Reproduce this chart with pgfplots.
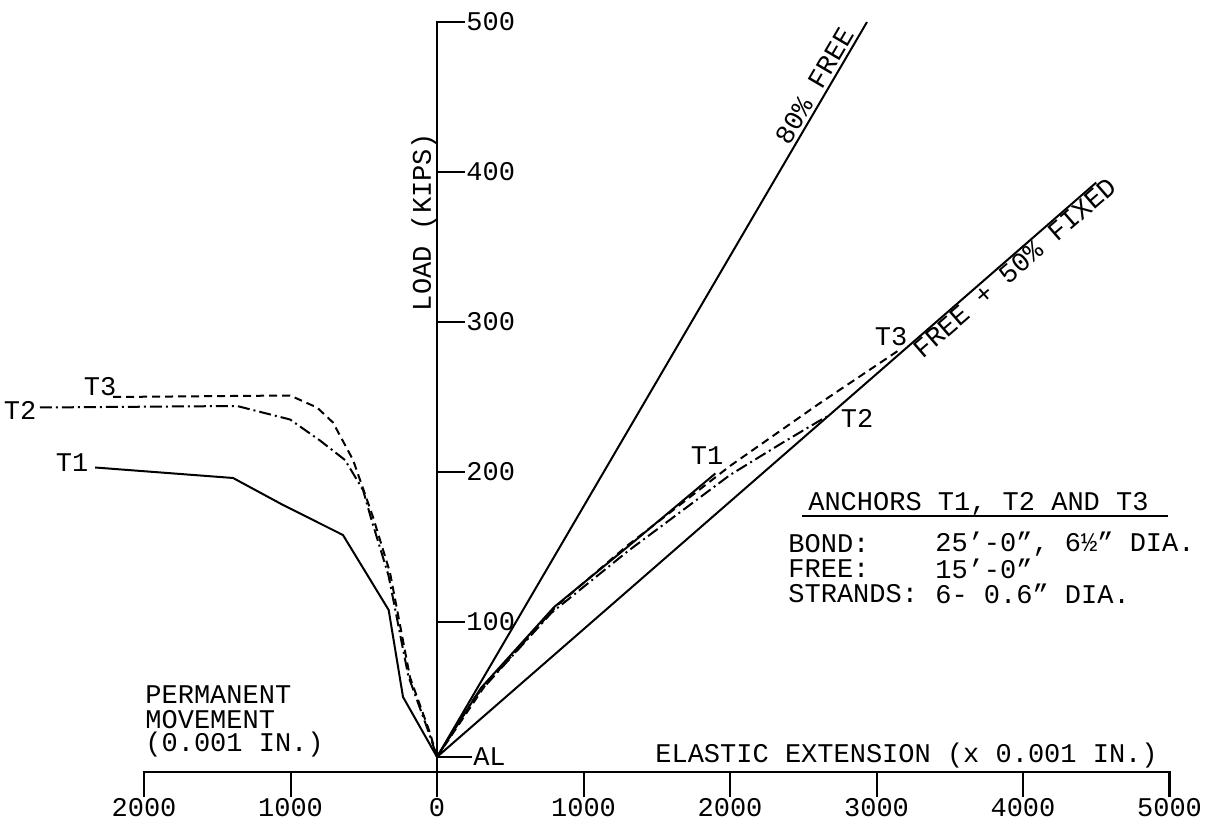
\documentclass[border=0pt]{standalone}
\usepackage{pgfplots}
\pgfplotsset{compat=1.18}
\usepackage{fontspec}
\setmainfont{Liberation Mono}
\begin{document}
\begin{tikzpicture}[font=\fontsize{13.5pt}{16pt}\selectfont, every node/.append style={inner sep=0pt}]
\begin{axis}[
  width=606.5pt, height=415pt, scale only axis,
  xmin=-2983, xmax=5297, ymin=-38.7, ymax=514.7,
  hide axis, clip=false,
]
\path (axis cs:-2983,-38.7) rectangle (axis cs:5297,514.7);
% axes
\addplot[black, line width=1.2pt] coordinates {(-2000,-16.7) (-2000,0) (5000,0) (5000,-16.7)};
\addplot[black, line width=1.2pt] coordinates {(191,500) (0,500) (0,-17)};
% x ticks
\draw[black, line width=1pt] (axis cs:-1000,0) -- (axis cs:-1000,-16.7);
\draw[black, line width=1pt] (axis cs:1000,0) -- (axis cs:1000,-16.7);
\draw[black, line width=1pt] (axis cs:2000,0) -- (axis cs:2000,-16.7);
\draw[black, line width=1pt] (axis cs:3000,0) -- (axis cs:3000,-16.7);
\draw[black, line width=1pt] (axis cs:4000,0) -- (axis cs:4000,-16.7);
% y ticks
\draw[black, line width=1pt] (axis cs:0,100) -- (axis cs:191,100);
\draw[black, line width=1pt] (axis cs:0,200) -- (axis cs:191,200);
\draw[black, line width=1pt] (axis cs:0,300) -- (axis cs:191,300);
\draw[black, line width=1pt] (axis cs:0,400) -- (axis cs:191,400);
% tick labels
\node at (axis cs:-2000,-24) {2000};
\node at (axis cs:-1000,-24) {1000};
\node at (axis cs:0,-24) {0};
\node at (axis cs:1000,-24) {1000};
\node at (axis cs:2000,-24) {2000};
\node at (axis cs:3000,-24) {3000};
\node at (axis cs:4000,-24) {4000};
\node at (axis cs:5000,-24) {5000};
\node[anchor=west] at (axis cs:198,100) {100};
\node[anchor=west] at (axis cs:198,200) {200};
\node[anchor=west] at (axis cs:198,300) {300};
\node[anchor=west] at (axis cs:198,400) {400};
\node[anchor=west] at (axis cs:198,500) {500};
% axis titles
\node[rotate=90] at (axis cs:-89,366.7) {LOAD (KIPS)};
\node[anchor=west] at (axis cs:1488,10.7) {ELASTIC EXTENSION (x 0.001 IN.)};
\node[anchor=west] at (axis cs:-1993,51.5) {PERMANENT};
\node[anchor=west] at (axis cs:-1993,34.7) {MOVEMENT};
\node[anchor=west] at (axis cs:-1993,18) {(0.001 IN.)};
% AL
\draw[black, line width=1pt] (axis cs:0,10) -- (axis cs:239,10);
\node[anchor=west] at (axis cs:245,10) {AL};
% reference lines
\addplot[black, line width=1pt] coordinates {(0,10) (2935,500)};
\addplot[black, line width=1pt] coordinates {(0,10) (4500,393)};
\node[anchor=south, rotate=59.6, inner sep=2pt] at (axis cs:2655,452.6) {80\% FREE};
\node[anchor=north, rotate=41, inner sep=0.5pt] at (axis cs:3895,341.5) {FREE + 50\% FIXED};
% T1 solid
\addplot[black, line width=1pt] coordinates {(0,10) (300,56) (800,110) (1300,150) (1900,199)};
\addplot[black, line width=1pt] coordinates {(-2334,203) (-1392,196) (-1051,178) (-642,158) (-330,108) (-232,50) (0,10)};
% T2 dash-dot
\addplot[black, line width=1pt, dash pattern=on 6pt off 2pt on 1pt off 2pt] coordinates {(0,10) (260,50) (780,106) (1300,147) (2000,198) (2350,219) (2660,237)};
\addplot[black, line width=1pt, dash pattern=on 6pt off 2pt on 1pt off 2pt] coordinates {(-2710,243) (-1365,244) (-1003,235) (-799,221) (-628,208) (-505,188) (-447,168) (-331,131) (-196,64) (-55,26) (0,10)};
% T3 dashed
\addplot[black, line width=1pt, dash pattern=on 4pt off 2.5pt] coordinates {(0,10) (330,58) (820,111) (1300,151) (2000,204) (2600,245) (3150,281)};
\addplot[black, line width=1pt, dash pattern=on 4pt off 2.5pt] coordinates {(-2211,250) (-1003,251) (-819,243) (-710,233) (-573,208) (-437,170) (-321,133) (-184,63) (-48,26) (0,10)};
% curve labels
\node at (axis cs:-2846,241) {T2};
\node at (axis cs:-2300,257) {T3};
\node at (axis cs:-2491,206) {T1};
\node at (axis cs:1843,211) {T1};
\node at (axis cs:2867,236) {T2};
\node at (axis cs:3100,290) {T3};
% anchors table
\node[anchor=west] at (axis cs:2532,179) {ANCHORS T1, T2 AND T3};
\draw[black, line width=1pt] (axis cs:2491,170.7) -- (axis cs:4990,170.7);
\node[anchor=west] at (axis cs:2396,152) {BOND:};
\node[anchor=west] at (axis cs:2396,135.3) {FREE:};
\node[anchor=west] at (axis cs:2396,118.7) {STRANDS:};
\node[anchor=west] at (axis cs:3399,152) {25'-0'', 6½'' DIA.};
\node[anchor=west] at (axis cs:3399,135.3) {15'-0''};
\node[anchor=west] at (axis cs:3399,118.7) {6- 0.6'' DIA.};
\end{axis}
\end{tikzpicture}
\end{document}
